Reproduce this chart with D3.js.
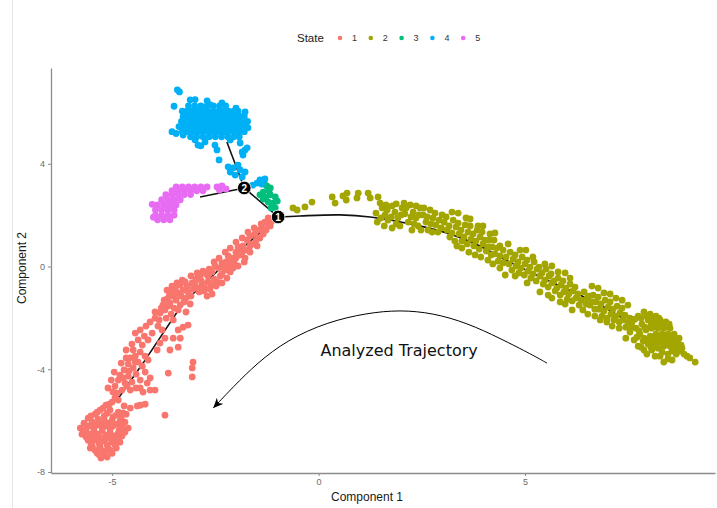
<!DOCTYPE html>
<html lang="en">
<head>
  <meta charset="utf-8">
  <title>Cell trajectory</title>
  <script src="https://cdn.jsdelivr.net/npm/d3@7"></script>
  <style>
    body { margin: 0; background: #fff; }
    text { font-family: "Liberation Sans", Arial, sans-serif; }
  </style>
</head>
<body>
<script>
  const states = ["1", "2", "3", "4", "5"];
  const stateColors = ["#F8766D", "#A3A500", "#00BF7D", "#00B0F6", "#E76BF3"];
  const xTicks = [-5, 0, 5];
  const yTicks = [-8, -4, 0, 4];

  // state 1 (red)
  const state1Pts = [
    [-1.13,1.77],[-1.22,1.66],[-1.30,1.73],[-1.37,1.50],[-1.46,1.42],[-1.27,1.42],[-1.54,1.27],[-1.66,1.19],
    [-1.42,1.11],[-1.73,1.03],[-1.61,0.88],[-1.83,0.80],[-1.95,0.76],[-1.78,0.64],[-1.90,0.45],[-2.00,0.56],
    [-2.09,0.33],[-2.19,0.41],[-1.78,0.33],[-2.05,0.18],[-2.19,0.06],[-2.34,0.14],[-1.95,0.02],
    [-1.17,1.58],[-1.34,1.27],[-1.51,1.03],[-1.66,0.80],[-1.85,0.56],[-2.00,0.33],[-2.14,0.18],[-2.29,-0.06],
    [-1.22,1.89],[-1.39,1.66],[-1.56,1.50],[-1.71,1.34],[-1.85,1.11],[-2.00,0.95],[-2.14,0.72],[-2.26,0.56],
    [-2.41,0.33],[-2.53,0.18],[-1.49,0.80],[-1.66,0.56],[-1.80,0.18],[-2.24,0.18],
    [-2.26,-0.14],[-2.43,-0.06],[-2.58,-0.21],[-2.72,-0.29],[-2.87,-0.37],[-2.97,-0.49],[-2.38,-0.37],[-2.53,-0.49],
    [-2.68,-0.60],[-2.82,-0.72],[-2.22,-0.45],[-2.34,-0.64],[-2.48,-0.76],[-2.63,-0.88],[-2.14,-0.21],[-2.77,-0.95],
    [-2.92,-0.84],[-2.58,-1.07],[-3.06,-0.64],
    [-2.51,0.02],[-2.65,-0.10],[-2.80,-0.18],[-2.94,-0.25],[-3.09,-0.37],[-2.34,-0.29],[-2.46,-0.60],[-2.60,-0.72],
    [-2.75,-0.84],[-2.89,-0.99],[-3.04,-0.88],[-3.18,-0.76],[-2.68,-0.37],[-2.84,-0.56],[-2.99,-0.72],[-2.17,0.02],
    [-2.07,-0.06],[-2.70,-1.15],
    [-3.23,-0.60],[-3.35,-0.72],[-3.47,-0.84],[-3.60,-0.95],[-3.40,-1.03],[-3.55,-1.15],[-3.67,-1.27],[-3.28,-0.92],
    [-3.16,-0.99],[-3.45,-1.31],[-3.60,-1.42],[-3.77,-1.50],[-3.35,-1.50],[-3.21,-1.23],[-3.72,-1.69],[-3.50,-1.62],
    [-3.84,-1.81],[-3.09,-1.15],
    [-3.30,-0.53],[-3.43,-0.64],[-3.55,-0.76],[-3.67,-0.92],[-3.33,-1.15],[-3.47,-1.07],[-3.62,-1.15],[-3.74,-1.31],
    [-3.26,-1.38],[-3.40,-1.69],[-3.57,-1.85],[-3.69,-2.01],[-3.86,-2.08],[-3.52,-2.08],[-3.64,-1.54],[-3.81,-1.62],
    [-3.96,-1.77],[-3.11,-1.46],[-3.21,-1.77],
    [-3.96,-2.01],[-4.08,-2.16],[-4.18,-2.32],[-3.89,-2.32],[-4.32,-2.47],[-4.44,-2.59],[-4.03,-2.59],[-3.79,-2.47],
    [-3.28,-2.36],[-3.40,-2.47],[-3.52,-2.79],[-3.35,-2.79],[-3.60,-3.25],[-3.40,-3.14],[-3.84,-2.98],[-3.72,-2.79],
    [-4.13,-2.86],[-4.27,-3.06],[-3.91,-3.25],[-3.16,-2.28],
    [-4.22,-2.71],[-4.37,-2.86],[-4.52,-3.02],[-4.66,-3.25],[-4.49,-3.25],[-4.20,-3.49],[-4.66,-3.56],[-4.78,-3.76],
    [-4.44,-3.72],[-4.95,-4.11],[-4.59,-4.07],[-5.02,-4.42],[-4.73,-4.34],[-5.10,-4.73],[-4.88,-4.93],[-4.64,-4.66],
    [-4.25,-4.89],[-4.08,-4.34],
    [-4.32,-3.33],[-4.44,-3.49],[-4.56,-3.56],[-4.37,-3.72],[-4.61,-3.80],[-4.49,-3.95],[-4.71,-4.03],[-4.27,-3.88],
    [-4.81,-4.23],[-4.61,-4.27],[-4.42,-4.19],[-4.85,-4.42],[-4.69,-4.54],[-4.52,-4.50],[-4.32,-4.42],[-4.93,-4.66],
    [-4.76,-4.81],[-4.56,-4.81],[-4.20,-4.11],[-4.13,-3.64],[-4.98,-4.89],[-4.42,-4.73],
    [-3.04,-3.72],[-3.06,-3.95],[-3.06,-4.30],[-3.64,-4.15],[-4.08,-4.81],[-3.96,-4.81],[-4.32,-4.73],[-4.15,-4.54],
    [-4.32,-5.40],[-3.72,-5.79],
    [-4.85,-5.20],[-5.00,-5.28],[-5.15,-5.40],[-4.71,-5.43],[-4.56,-5.51],[-4.39,-5.43],[-4.20,-5.36],[-5.29,-5.59],
    [-5.05,-5.59],[-4.85,-5.67],[-5.41,-5.75],[-5.19,-5.82],[-4.98,-5.86],[-4.78,-5.90],[-5.58,-5.90],[-5.68,-6.10],
    [-5.48,-6.06],[-5.29,-6.06],[-5.10,-6.10],[-4.88,-6.14],[-4.69,-6.06],[-5.63,-6.33],[-5.44,-6.29],[-5.24,-6.29],
    [-5.05,-6.33],[-4.83,-6.37],[-5.73,-6.53],[-5.53,-6.53],[-5.34,-6.53],[-5.15,-6.57],[-4.95,-6.60],[-4.76,-6.60],
    [-5.58,-6.76],[-5.39,-6.76],[-5.19,-6.80],[-5.00,-6.84],[-4.81,-6.84],[-5.48,-6.99],[-5.29,-7.03],[-5.10,-7.07],
    [-4.90,-7.07],[-5.53,-7.07],[-5.36,-7.27],[-5.17,-7.31],[-5.00,-7.27],[-5.27,-7.46],[-4.61,-6.29],[-4.66,-5.75],
    [-4.93,-5.12],[-5.07,-5.36],[-5.22,-5.51],[-5.36,-5.67],[-5.51,-5.82],[-5.12,-5.71],[-4.90,-5.79],[-4.73,-5.71],
    [-5.34,-5.94],[-5.19,-5.98],[-5.00,-5.98],[-4.81,-6.02],[-5.56,-6.21],[-5.36,-6.17],[-5.17,-6.21],[-4.98,-6.21],
    [-4.76,-6.25],[-5.65,-6.41],[-5.44,-6.41],[-5.24,-6.41],[-5.05,-6.45],[-4.85,-6.49],[-5.63,-6.64],[-5.46,-6.64],
    [-5.27,-6.68],[-5.07,-6.68],[-4.88,-6.72],[-5.51,-6.88],[-5.31,-6.92],[-5.12,-6.95],[-4.93,-6.95],[-5.41,-7.15],
    [-5.22,-7.19],[-5.05,-7.15],[-5.31,-7.34],[-5.12,-7.42],[-5.77,-6.29],[-4.69,-6.45]
  ];

  // state 2 (olive)
  const state2Pts = [
    [-0.62,2.28],[-0.33,2.32],[-0.16,2.51],[0.33,2.71],[0.40,2.47],[0.59,2.75],[0.69,2.86],[0.67,2.59],
    [0.93,2.67],[0.96,2.86],[1.20,2.86],[1.25,2.67],[1.44,2.71],[-0.52,2.20],
    [1.39,2.08],[1.42,1.73],[1.54,2.28],[1.61,2.01],[1.68,1.81],[1.78,2.36],[1.85,2.12],[1.92,1.89],
    [2.02,2.28],[2.09,2.05],[2.17,1.73],[2.22,2.40],[2.29,2.12],[2.36,1.89],[2.41,1.58],[2.46,2.28],
    [2.53,2.01],[2.60,1.73],[2.65,1.42],[2.70,2.20],[2.77,1.89],[2.84,1.62],[2.89,1.34],[1.59,1.58],
    [1.97,1.58],[2.26,1.42],[1.78,1.50],[2.07,2.47],[2.36,2.36],
    [1.49,2.47],[1.66,2.20],[1.76,1.93],[1.88,1.66],[2.00,2.01],[2.12,2.28],[2.24,1.93],[2.31,1.66],
    [2.43,2.01],[2.55,2.28],[2.63,1.93],[2.72,1.66],[2.82,2.08],[2.92,1.81],[2.97,1.50],[1.51,1.89],
    [1.88,2.44],[2.48,1.42],[2.75,1.34],[1.63,2.40],
    [2.99,2.01],[3.04,1.73],[3.11,1.42],[3.18,1.15],[3.26,1.81],[3.33,1.54],[3.40,1.27],[3.47,0.99],
    [3.55,1.62],[3.62,1.34],[3.69,1.07],[3.76,0.80],[3.84,1.42],[3.91,1.15],[3.98,0.88],[4.06,0.60],
    [4.13,1.03],[4.20,0.76],[4.27,0.49],[4.35,0.21],[3.23,2.12],[3.57,1.89],[3.86,1.58],[4.15,1.27],
    [4.39,0.80],[3.79,0.45],[4.10,0.25],[3.47,0.72],
    [3.09,1.93],[3.16,1.58],[3.23,1.31],[3.30,0.99],[3.38,1.69],[3.45,1.42],[3.52,1.15],[3.60,0.88],
    [3.67,1.58],[3.74,1.27],[3.81,0.99],[3.89,0.68],[3.96,1.34],[4.03,1.03],[4.10,0.76],[4.18,0.45],
    [4.25,1.03],[4.32,0.72],[4.39,0.41],[4.47,0.14],[3.38,2.08],[3.67,1.85],[3.98,1.58],[4.27,1.31],
    [3.35,0.80],[3.64,0.56],[3.93,0.37],[4.22,0.10],
    [4.47,0.64],[4.54,0.37],[4.61,0.10],[4.68,-0.14],[4.76,0.45],[4.83,0.18],[4.90,-0.06],[4.98,-0.33],
    [5.05,0.25],[5.12,-0.02],[5.19,-0.29],[5.27,-0.56],[5.34,-0.02],[5.41,-0.25],[5.48,-0.53],[5.56,-0.80],
    [5.63,-0.29],[5.70,-0.56],[5.77,-0.84],[5.85,-1.11],[5.92,-0.56],[5.99,-0.84],[6.06,-1.07],[6.14,-1.34],
    [6.21,-0.80],[6.28,-1.07],[4.59,0.88],[4.88,0.64],[5.19,0.37],[5.48,0.10],[5.80,-0.21],[6.09,-0.45],
    [5.36,-0.99],[5.65,-1.23],[5.97,-1.46],[4.76,-0.37],[4.39,-0.06],
    [4.64,0.56],[4.71,0.29],[4.78,0.02],[4.85,-0.25],[4.93,0.37],[5.00,0.10],[5.07,-0.18],[5.14,-0.45],
    [5.22,0.18],[5.29,-0.10],[5.36,-0.37],[5.44,-0.68],[5.51,-0.10],[5.58,-0.37],[5.65,-0.64],[5.73,-0.95],
    [5.80,-0.45],[5.87,-0.72],[5.94,-0.99],[6.02,-1.27],[6.09,-0.68],[6.16,-0.95],[6.23,-1.23],[6.31,-1.50],
    [5.05,-0.64],[5.56,-1.11],[5.85,-1.38],[6.14,-1.69],[4.52,-0.33],[5.02,0.64],[5.65,0.02],[5.97,-0.25],
    [6.36,-1.31],[6.43,-0.99],[6.50,-1.23],[6.57,-1.50],[6.65,-1.11],[6.72,-1.38],[6.79,-1.66],[6.86,-1.93],
    [6.94,-1.31],[7.01,-1.58],[7.08,-1.85],[7.15,-2.08],[7.23,-1.54],[7.30,-1.81],[7.37,-2.08],[7.44,-2.36],
    [6.62,-0.76],[6.91,-1.03],[7.20,-1.23],[7.49,-1.50],[6.40,-1.69],[6.69,-1.93],[6.98,-2.16],[7.28,-2.40],
    [7.54,-2.01],
    [6.48,-1.46],[6.55,-1.15],[6.62,-1.38],[6.69,-1.66],[6.77,-1.19],[6.84,-1.46],[6.91,-1.73],[6.98,-2.01],
    [7.06,-1.38],[7.13,-1.66],[7.20,-1.93],[7.28,-2.16],[7.35,-1.62],[7.42,-1.89],[7.49,-2.16],[6.52,-1.85],
    [6.82,-2.08],[7.11,-2.32],[6.77,-0.84],[7.06,-1.07],[7.35,-1.31],
    [7.59,-2.16],[7.74,-1.93],[7.88,-1.77],[8.03,-1.85],[8.17,-1.93],[7.69,-2.40],[7.83,-2.24],[7.98,-2.08],
    [8.12,-2.16],[8.27,-2.08],[8.41,-2.16],[7.78,-2.63],[7.93,-2.47],[8.07,-2.40],[8.22,-2.40],[8.36,-2.40],
    [8.51,-2.40],[7.64,-2.86],[7.88,-2.79],[8.03,-2.71],[8.17,-2.63],[8.32,-2.63],[8.46,-2.63],[8.61,-2.63],
    [7.74,-3.10],[7.98,-3.02],[8.12,-2.94],[8.27,-2.86],[8.41,-2.86],[8.56,-2.86],[8.70,-2.94],[7.88,-3.25],
    [8.07,-3.25],[8.22,-3.18],[8.36,-3.10],[8.51,-3.10],[8.66,-3.18],[8.80,-3.18],[8.27,-3.49],[8.46,-3.41],
    [8.66,-3.41],[8.85,-3.41],[8.99,-3.56],[9.12,-3.72],[8.36,-3.72],[8.56,-3.64],[7.54,-2.55],[7.44,-2.79],
    [7.66,-2.05],[7.81,-2.01],[7.95,-1.93],[8.10,-2.01],[8.24,-2.01],[7.76,-2.51],[7.90,-2.36],[8.05,-2.28],
    [8.19,-2.28],[8.34,-2.28],[8.49,-2.24],[7.71,-2.75],[7.86,-2.90],[8.00,-2.86],[8.15,-2.79],[8.29,-2.75],
    [8.44,-2.75],[8.58,-2.75],[8.73,-2.79],[7.81,-3.14],[8.05,-3.14],[8.19,-3.06],[8.34,-2.98],[8.49,-2.98],
    [8.63,-2.98],[8.78,-3.06],[8.32,-3.33],[8.56,-3.29],[8.75,-3.29],[8.92,-3.49],[8.46,-3.60],[7.59,-2.36],
    [7.95,-3.41],[8.15,-3.49]
  ];

  // state 3 (green)
  const state3Pts = [
    [-1.25,3.13],[-1.17,3.06],[-1.34,2.90],[-1.42,2.79],[-1.17,2.79],[-1.05,2.71],[-1.34,2.63],[-1.22,2.51],
    [-1.10,2.47],[-1.15,2.28],[-1.05,2.28],[-1.30,3.20],[-1.20,2.95],[-1.00,2.55],[-1.28,2.70]
  ];

  // state 4 (blue)
  const state4Pts = [
    [-3.42,6.88],[-3.37,6.80],[-2.99,6.50],[-3.50,6.24],[-2.63,6.30],
    [-3.11,6.49],[-2.70,6.45],[-2.34,6.37],[-2.00,6.17],[-1.78,6.02],
    [-3.15,6.25],[-3.00,6.25],[-2.85,6.25],[-2.70,6.25],[-2.55,6.25],[-2.40,6.25],[-2.25,6.25],
    [-3.30,6.05],[-3.18,6.05],[-3.05,6.05],[-2.92,6.05],[-2.80,6.05],[-2.68,6.05],[-2.55,6.05],[-2.42,6.05],
    [-2.30,6.05],[-2.18,6.05],[-2.05,6.05],[-1.95,6.05],
    [-3.28,5.85],[-3.15,5.85],[-3.02,5.85],[-2.90,5.85],[-2.78,5.85],[-2.65,5.85],[-2.52,5.85],[-2.40,5.85],
    [-2.28,5.85],[-2.15,5.85],[-2.02,5.85],[-1.90,5.85],[-1.80,5.85],
    [-3.32,5.65],[-3.20,5.65],[-3.08,5.65],[-2.95,5.65],[-2.82,5.65],[-2.70,5.65],[-2.58,5.65],[-2.45,5.65],
    [-2.32,5.65],[-2.20,5.65],[-2.08,5.65],[-1.95,5.65],[-1.82,5.65],[-1.72,5.65],
    [-3.38,5.45],[-3.25,5.45],[-3.12,5.45],[-3.00,5.45],[-2.88,5.45],[-2.75,5.45],[-2.62,5.45],[-2.50,5.45],
    [-2.38,5.45],[-2.25,5.45],[-2.12,5.45],[-2.00,5.45],[-1.88,5.45],[-1.76,5.45],
    [-3.30,5.25],[-3.18,5.25],[-3.05,5.25],[-2.92,5.25],[-2.80,5.25],[-2.67,5.25],[-2.55,5.25],[-2.42,5.25],
    [-2.30,5.25],[-2.18,5.25],[-2.05,5.25],[-1.93,5.25],[-1.80,5.25],
    [-3.10,5.05],[-2.95,5.05],[-2.80,5.05],[-2.65,5.05],[-2.50,5.05],[-2.35,5.05],[-2.20,5.05],[-2.05,5.05],
    [-1.92,5.05],[-3.55,5.25],[-3.45,5.18],
    [-3.28,5.12],[-2.99,4.93],[-2.75,4.85],[-2.14,4.93],[-1.71,5.40],
    [-2.92,4.73],[-2.85,4.70],[-2.51,4.73],[-2.46,4.54],[-2.41,4.15],[-1.90,4.81],[-1.85,4.46],[-1.78,4.54],
    [-1.83,4.34],[-1.73,4.62],
    [-2.19,3.88],[-2.07,3.84],[-1.90,3.76],[-2.02,3.56],[-1.85,3.49],[-1.78,3.68],[-1.95,3.95],[-2.14,3.68],
    [-1.42,3.37],[-1.30,3.41],[-1.49,3.25],[-1.59,3.17],[-1.38,3.21]
  ];

  // state 5 (pink)
  const state5Pts = [
    [-3.45,3.10],[-3.30,3.10],[-3.15,3.10],[-3.00,3.10],[-2.85,3.10],[-2.70,3.10],
    [-3.55,2.95],[-3.40,2.95],[-3.25,2.95],[-3.10,2.95],[-2.95,2.95],[-2.80,2.95],
    [-3.70,2.80],[-3.55,2.80],[-3.40,2.80],[-3.25,2.80],[-3.10,2.80],
    [-3.80,2.60],[-3.65,2.60],[-3.50,2.60],[-3.35,2.60],
    [-3.90,2.40],[-3.75,2.40],[-3.60,2.40],[-3.45,2.40],
    [-3.95,2.20],[-3.80,2.20],[-3.65,2.20],[-3.50,2.20],
    [-3.95,2.00],[-3.80,2.00],[-3.65,2.00],[-3.50,2.00],
    [-3.90,1.82],[-3.75,1.82],[-3.60,1.82],
    [-2.46,3.10],[-2.34,3.14],[-2.24,3.02],[-2.40,2.98],[-4.03,2.42],[-4.00,1.92]
  ];

  const statePts = [state1Pts, state2Pts, state3Pts, state4Pts, state5Pts];

  // trajectory tree
  const branchRight = [[-0.98,1.93],[-0.45,1.97],[0.52,2.01],[1.25,1.93],[2.22,1.66],[3.18,1.27],
    [3.91,0.80],[4.39,0.37],[5.12,-0.21],[5.85,-0.76],[6.82,-1.50],[7.66,-2.32]];
  const branchLeft = [[-0.98,1.93],[-1.90,0.64],[-3.28,-1.42],[-4.25,-3.76],[-4.88,-5.20]];
  const branch21 = [[-1.80,3.06],[-0.98,1.93]];
  const branchPink = [[-1.80,3.06],[-2.87,2.71]];
  const branchBlue = [[-1.80,3.06],[-2.22,4.85]];
  const branchPoints = [{ id: "1", pos: [-0.98,1.93] }, { id: "2", pos: [-1.80,3.06] }];

  // annotation arrow
  const arrowPath = [[5.53,-3.76],[5.19,-3.45],[4.39,-2.79],[3.60,-2.20],[2.77,-1.81],[1.97,-1.69],
    [1.17,-1.81],[0.21,-2.16],[-0.76,-2.86],[-1.49,-3.76],[-2.07,-4.69],[-2.55,-5.51]];
  const arrowLabel = { text: "Analyzed Trajectory", pos: [1.95,-3.25] };

  const w = 717;
  const h = 508;

  const x = d3.scaleLinear().domain([-6.48, 9.6]).range([51, 715]);
  const y = d3.scaleLinear().domain([-8.04, 7.73]).range([473, 68]);

  const svg = d3.select("body")
    .append("svg")
    .attr("width", w)
    .attr("height", h);

  svg.append("line")
    .attr("x1", 12.5).attr("x2", 12.5)
    .attr("y1", 0).attr("y2", h)
    .attr("stroke", "#e6e6e6");

  const line = d3.line().x(d => x(d[0])).y(d => y(d[1]));

  svg.selectAll(".tree")
    .data([branchLeft, branch21, branchPink, branchBlue])
    .enter()
    .append("path")
    .attr("class", "tree")
    .attr("d", line)
    .attr("fill", "none")
    .attr("stroke", "#111")
    .attr("stroke-width", 1.6);

  svg.append("path")
    .datum(branchRight)
    .attr("d", line.curve(d3.curveCatmullRom))
    .attr("fill", "none")
    .attr("stroke", "#111")
    .attr("stroke-width", 1.6);
  line.curve(d3.curveLinear);

  statePts.forEach((pts, i) => {
    svg.append("g")
      .selectAll("circle")
      .data(pts)
      .enter()
      .append("circle")
      .attr("cx", d => x(d[0]))
      .attr("cy", d => y(d[1]))
      .attr("r", 3.4)
      .attr("fill", stateColors[i]);
  });

  const bp = svg.selectAll(".bp")
    .data(branchPoints)
    .enter()
    .append("g")
    .attr("class", "bp")
    .attr("transform", d => "translate(" + x(d.pos[0]) + "," + y(d.pos[1]) + ")");
  bp.append("circle").attr("r", 6.8).attr("fill", "#000").attr("stroke", "#fff").attr("stroke-width", 0.8);
  bp.append("text")
    .attr("text-anchor", "middle")
    .attr("dy", "0.36em")
    .attr("fill", "#fff")
    .style("font-size", "10px")
    .style("font-weight", "bold")
    .text(d => d.id);

  // axes
  const xAxis = d3.axisBottom(x).tickValues(xTicks).tickSize(3).tickSizeOuter(0).tickPadding(3)
    .tickFormat(d => String(d));
  const gx = svg.append("g")
    .attr("transform", "translate(0," + 473 + ")")
    .call(xAxis);

  const yAxis = d3.axisLeft(y).tickValues(yTicks).tickSize(3).tickSizeOuter(0).tickPadding(3)
    .tickFormat(d => String(d));
  const gy = svg.append("g")
    .attr("transform", "translate(" + 51 + ",0)")
    .call(yAxis);

  [gx, gy].forEach(g => {
    g.select(".domain").attr("stroke", "#8c8c8c").attr("stroke-width", 1.3);
    g.selectAll(".tick line").attr("stroke", "#8c8c8c").attr("stroke-width", 1);
    g.selectAll(".tick text")
      .attr("fill", "#6b6b6b")
      .style("font-size", "9px")
      .style("font-family", "'Liberation Sans', Arial, sans-serif");
  });

  svg.append("text")
    .attr("x", 367).attr("y", 501)
    .attr("text-anchor", "middle")
    .style("font-size", "12px")
    .attr("fill", "#1a1a1a")
    .text("Component 1");

  svg.append("text")
    .attr("transform", "translate(26,268) rotate(-90)")
    .attr("text-anchor", "middle")
    .style("font-size", "12px")
    .attr("fill", "#1a1a1a")
    .text("Component 2");

  // legend
  const legend = svg.append("g").attr("transform", "translate(297,38)");
  legend.append("text")
    .attr("x", 0).attr("dy", "0.35em")
    .style("font-size", "11.5px")
    .attr("fill", "#1a1a1a")
    .text("State");
  const items = legend.selectAll(".item")
    .data(states)
    .enter()
    .append("g")
    .attr("class", "item")
    .attr("transform", (d, i) => "translate(" + (43 + i * 30.8) + ",0)");
  items.append("circle").attr("r", 2.3).attr("fill", (d, i) => stateColors[i]);
  items.append("text")
    .attr("x", 12).attr("dy", "0.35em")
    .style("font-size", "9px")
    .attr("fill", "#333")
    .text(d => d);

  // annotation
  svg.append("defs").append("marker")
    .attr("id", "arrowhead")
    .attr("viewBox", "-10 -5 12 10")
    .attr("refX", 0).attr("refY", 0)
    .attr("markerWidth", 12).attr("markerHeight", 10)
    .attr("markerUnits", "userSpaceOnUse")
    .attr("orient", "auto")
    .append("path")
    .attr("d", "M0,0 L-10,-4.5 L-7,0 L-10,4.5 Z")
    .attr("fill", "#000");

  svg.append("path")
    .datum(arrowPath)
    .attr("d", d3.line().x(d => x(d[0])).y(d => y(d[1])).curve(d3.curveBasis))
    .attr("fill", "none")
    .attr("stroke", "#000")
    .attr("stroke-width", 1)
    .attr("marker-end", "url(#arrowhead)");

  svg.append("text")
    .attr("x", x(arrowLabel.pos[0]))
    .attr("y", y(arrowLabel.pos[1]))
    .attr("text-anchor", "middle")
    .attr("dy", "0.35em")
    .style("font-family", "'DejaVu Sans', sans-serif")
    .style("font-size", "16px")
    .attr("fill", "#111")
    .text(arrowLabel.text);
</script>
</body>
</html>
